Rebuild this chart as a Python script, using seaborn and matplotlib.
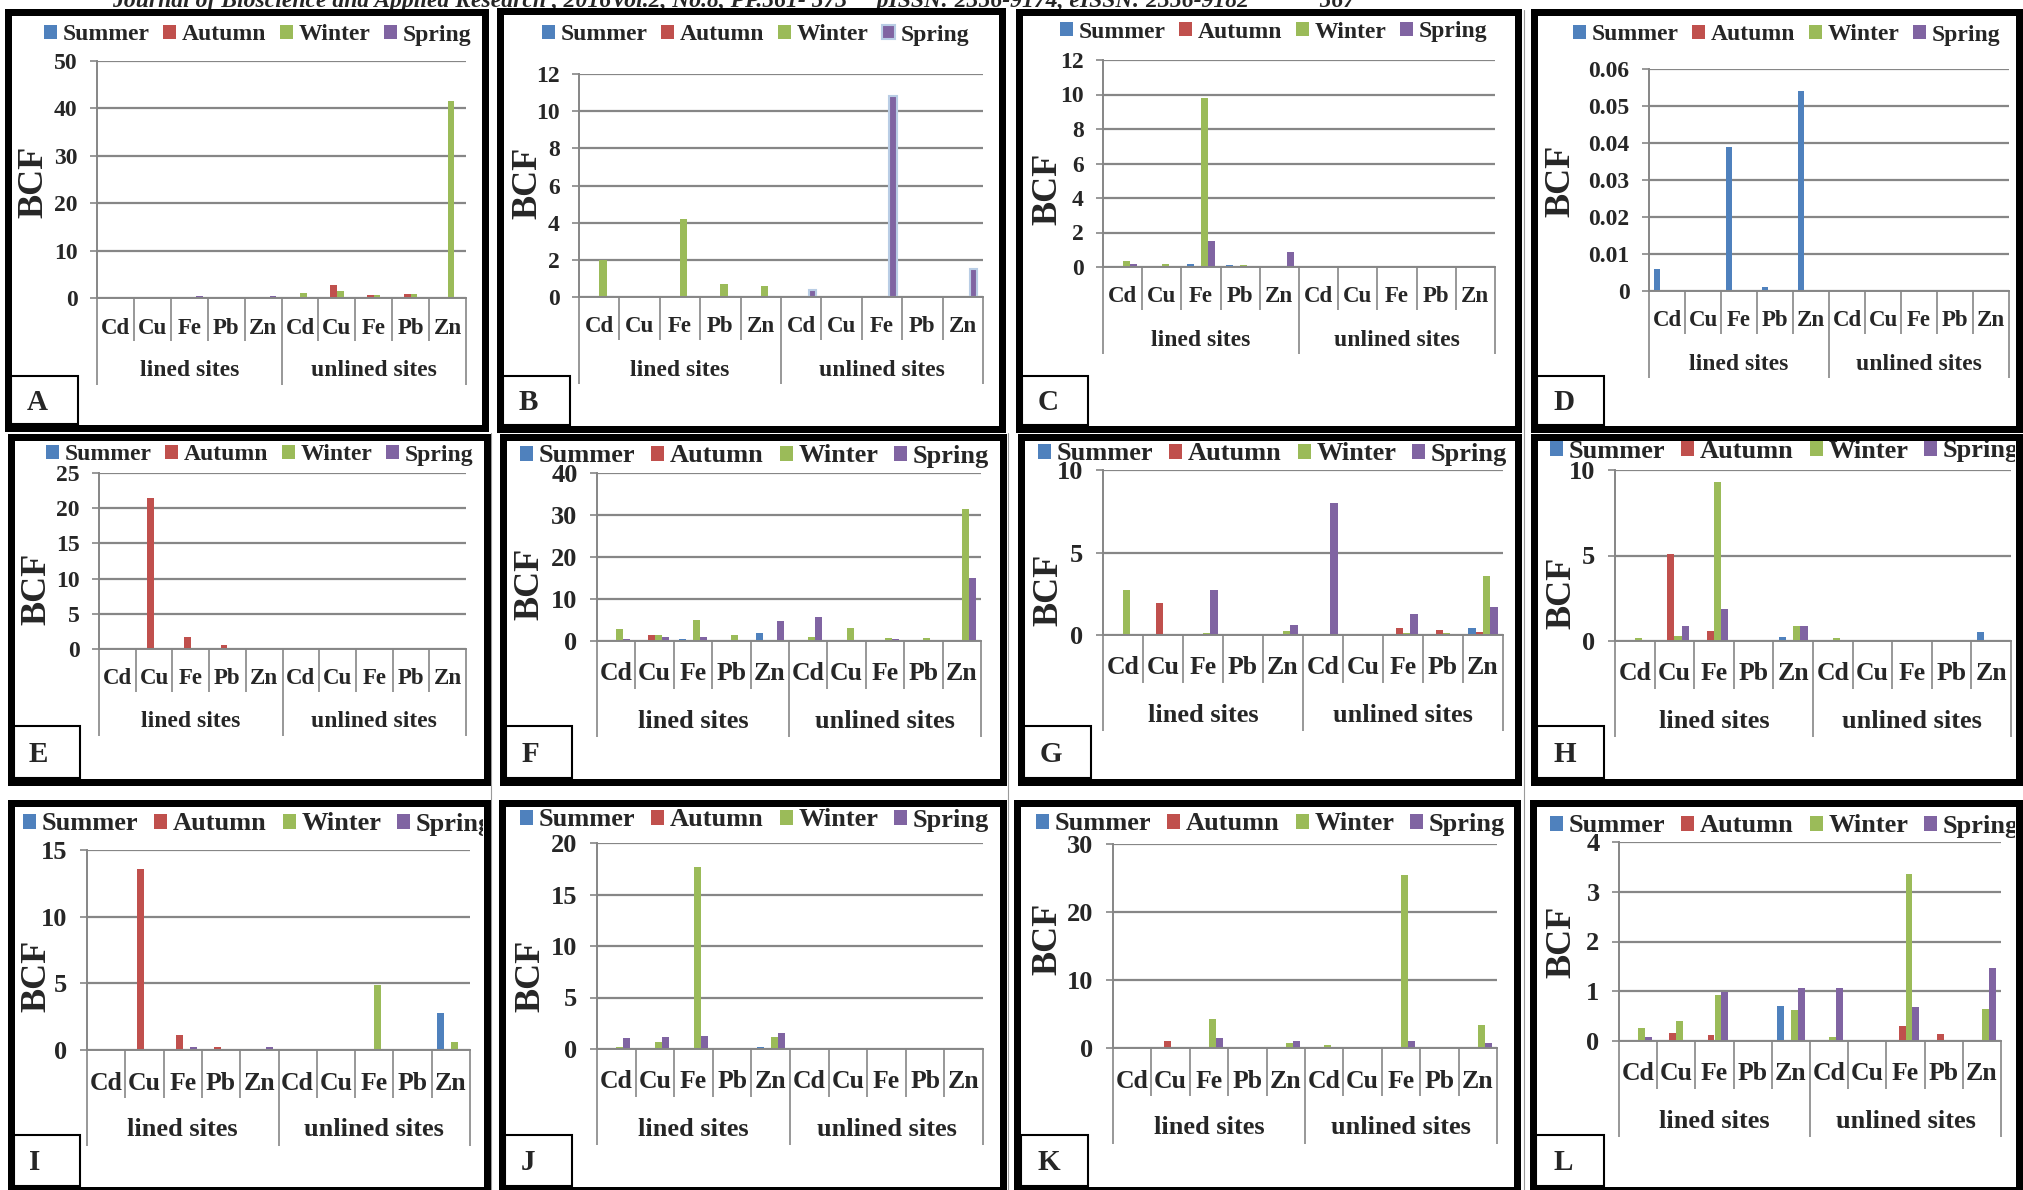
import numpy as np
import pandas as pd
import matplotlib
matplotlib.use("Agg")
import matplotlib.pyplot as plt
import seaborn as sns
from matplotlib.patches import Rectangle, Patch
from matplotlib.lines import Line2D
from matplotlib.transforms import blended_transform_factory, Bbox, TransformedBbox

# ---------------- data ----------------
seasons = ["Summer", "Autumn", "Winter", "Spring"]
metals = ["Cd", "Cu", "Fe", "Pb", "Zn"]
sites = ["lined sites", "unlined sites"]
season_colors = ["#4F81BD", "#C0504D", "#9BBB59", "#8064A2"]

# order: lined Cd, Cu, Fe, Pb, Zn, unlined Cd, Cu, Fe, Pb, Zn
A_summer = [0, 0, 0, 0, 0, 0, 0, 0, 0, 0]
A_autumn = [0, 0, 0, 0, 0, 0, 2.8, 0.7, 0.8, 0.3]
A_winter = [0, 0, 0, 0, 0, 1.1, 1.4, 0.7, 0.8, 41.6]
A_spring = [0, 0, 0.5, 0, 0.5, 0, 0, 0, 0, 0]

B_summer = [0, 0, 0, 0, 0, 0, 0, 0, 0, 0]
B_autumn = [0, 0, 0, 0, 0, 0, 0, 0, 0, 0]
B_winter = [2.0, 0, 4.2, 0.7, 0.6, 0, 0, 0, 0, 0]
B_spring = [0, 0, 0, 0, 0, 0.4, 0, 10.8, 0, 1.5]

C_summer = [0.05, 0, 0.15, 0.1, 0, 0, 0, 0, 0, 0.05]
C_autumn = [0, 0, 0, 0, 0, 0, 0, 0, 0, 0]
C_winter = [0.35, 0.2, 9.8, 0.1, 0, 0, 0, 0, 0, 0]
C_spring = [0.15, 0, 1.5, 0, 0.85, 0, 0, 0, 0, 0]

D_summer = [0.006, 0, 0.039, 0.001, 0.054, 0, 0, 0, 0, 0]
D_autumn = [0, 0, 0, 0, 0, 0, 0, 0, 0, 0]
D_winter = [0, 0, 0, 0, 0, 0, 0, 0, 0, 0]
D_spring = [0, 0, 0, 0, 0, 0, 0, 0, 0, 0]

E_summer = [0.05, 0, 0, 0, 0, 0, 0, 0, 0, 0]
E_autumn = [0, 21.4, 1.7, 0.6, 0, 0, 0, 0, 0, 0]
E_winter = [0.2, 0, 0.2, 0, 0.1, 0, 0, 0, 0, 0]
E_spring = [0, 0, 0, 0, 0, 0, 0, 0, 0, 0]

F_summer = [0.1, 0, 0.4, 0, 1.8, 0, 0, 0, 0, 0]
F_autumn = [0, 1.4, 0, 0, 0, 0, 0, 0, 0, 0]
F_winter = [2.8, 1.5, 5.0, 1.5, 0.3, 1.0, 3.2, 0.8, 0.6, 31.5]
F_spring = [0.4, 0.9, 1.0, 0, 4.7, 5.7, 0, 0.4, 0, 15.0]

G_summer = [0, 0, 0, 0, 0, 0, 0, 0, 0, 0.4]
G_autumn = [0, 1.95, 0, 0, 0, 0, 0.07, 0.4, 0.3, 0.2]
G_winter = [2.7, 0, 0.15, 0, 0.25, 0.05, 0, 0.1, 0.15, 3.55]
G_spring = [0, 0, 2.7, 0, 0.6, 8.0, 0, 1.3, 0, 1.7]

H_summer = [0, 0, 0, 0, 0.25, 0, 0, 0.07, 0, 0.55]
H_autumn = [0, 5.1, 0.6, 0, 0, 0, 0, 0, 0, 0]
H_winter = [0.2, 0.3, 9.3, 0, 0.85, 0.2, 0, 0.03, 0, 0.02]
H_spring = [0, 0.85, 1.9, 0, 0.85, 0, 0, 0, 0, 0]

I_summer = [0, 0, 0.03, 0, 0.05, 0, 0, 0.03, 0, 2.8]
I_autumn = [0, 13.6, 1.1, 0.2, 0, 0, 0, 0, 0, 0]
I_winter = [0, 0, 0, 0, 0, 0, 0, 4.9, 0, 0.6]
I_spring = [0, 0, 0.25, 0, 0.25, 0, 0, 0, 0, 0]

J_summer = [0, 0, 0, 0, 0.15, 0, 0, 0, 0, 0]
J_autumn = [0, 0, 0, 0, 0, 0, 0, 0, 0, 0]
J_winter = [0.15, 0.7, 17.7, 0, 1.15, 0, 0, 0, 0, 0]
J_spring = [1.1, 1.2, 1.25, 0, 1.55, 0, 0, 0, 0, 0]

K_summer = [0, 0, 0, 0, 0.05, 0, 0, 0, 0, 0]
K_autumn = [0, 1.0, 0, 0, 0, 0, 0, 0, 0, 0]
K_winter = [0, 0, 4.2, 0, 0.7, 0.4, 0, 25.5, 0.1, 3.4]
K_spring = [0, 0, 1.5, 0, 1.0, 0.1, 0, 1.0, 0, 0.8]

L_summer = [0, 0, 0.01, 0, 0.7, 0, 0, 0, 0, 0]
L_autumn = [0, 0.17, 0.12, 0.03, 0, 0, 0, 0.3, 0.15, 0]
L_winter = [0.27, 0.4, 0.93, 0.03, 0.63, 0.09, 0, 3.35, 0, 0.64]
L_spring = [0.09, 0, 0.98, 0, 1.06, 1.06, 0, 0.68, 0, 1.46]

panel_data = {
    "A": [A_summer, A_autumn, A_winter, A_spring],
    "B": [B_summer, B_autumn, B_winter, B_spring],
    "C": [C_summer, C_autumn, C_winter, C_spring],
    "D": [D_summer, D_autumn, D_winter, D_spring],
    "E": [E_summer, E_autumn, E_winter, E_spring],
    "F": [F_summer, F_autumn, F_winter, F_spring],
    "G": [G_summer, G_autumn, G_winter, G_spring],
    "H": [H_summer, H_autumn, H_winter, H_spring],
    "I": [I_summer, I_autumn, I_winter, I_spring],
    "J": [J_summer, J_autumn, J_winter, J_spring],
    "K": [K_summer, K_autumn, K_winter, K_spring],
    "L": [L_summer, L_autumn, L_winter, L_spring],
}
# y axis (max, step)
panel_yaxis = {
    "A": (50, 10), "B": (12, 2), "C": (12, 2), "D": (0.06, 0.01),
    "E": (25, 5), "F": (40, 10), "G": (10, 5), "H": (10, 5),
    "I": (15, 5), "J": (20, 5), "K": (30, 10), "L": (4, 1),
}
header_text = ("Journal of Bioscience and Applied Research , 2016Vol.2, No.8, PP.561- 573"
               "     pISSN: 2356-9174, eISSN: 2356-9182            567")

# ---------------- layout (pixels) ----------------
W, H = 2023, 1190
layout = {
    "A": dict(border=(4, 8, 488, 431), ax=(97, 466, 61, 298), leg=(44, 35), fs=17, bcf=(34, 182), box=(78, 376), let=(37, 403)),
    "B": dict(border=(496, 7, 1005, 432), ax=(579, 983, 74, 297), leg=(542, 35), fs=17, bcf=(528, 183), box=(570, 376), let=(528, 403)),
    "C": dict(border=(1015, 8, 1521, 432), ax=(1103, 1495, 60, 267), leg=(1060, 32), fs=17, bcf=(1048, 189), box=(1088, 376), let=(1048, 403)),
    "D": dict(border=(1530, 8, 2022, 432), ax=(1649, 2009, 69, 291), leg=(1573, 35), fs=17, bcf=(1561, 181), box=(1604, 376), let=(1564, 403)),
    "E": dict(border=(7, 433, 490, 785), ax=(99, 466, 473, 649), leg=(46, 455), fs=17, bcf=(37, 589), box=(80, 726), let=(38, 754)),
    "F": dict(border=(499, 433, 1006, 785), ax=(597, 981, 473, 641), leg=(520, 456), fs=19, bcf=(530, 584), box=(572, 726), let=(530, 754)),
    "G": dict(border=(1017, 433, 1521, 785), ax=(1103, 1503, 470, 635), leg=(1038, 454), fs=19, bcf=(1049, 590), box=(1091, 726), let=(1051, 754)),
    "H": dict(border=(1530, 433, 2022, 785), ax=(1615, 2011, 470, 641), leg=(1550, 451), fs=19, bcf=(1562, 593), box=(1604, 726), let=(1565, 754)),
    "I": dict(border=(7, 799, 490, 1193), ax=(87, 470, 850, 1050), leg=(23, 824), fs=19, bcf=(37, 976), box=(80, 1135), let=(35, 1162)),
    "J": dict(border=(498, 799, 1006, 1193), ax=(597, 983, 843, 1049), leg=(520, 820), fs=19, bcf=(531, 976), box=(572, 1135), let=(528, 1162)),
    "K": dict(border=(1014, 799, 1521, 1193), ax=(1113, 1497, 844, 1048), leg=(1036, 824), fs=19, bcf=(1048, 939), box=(1088, 1135), let=(1049, 1162)),
    "L": dict(border=(1529, 799, 2022, 1193), ax=(1619, 2001, 842, 1041), leg=(1550, 826), fs=19, bcf=(1562, 942), box=(1604, 1135), let=(1563, 1162)),
}
GRAY = "#868686"
BT = 7  # border thickness px

sns.set_theme(style="white")
plt.rcParams["font.family"] = ["Liberation Serif", "DejaVu Serif"]
plt.rcParams["font.weight"] = "bold"
plt.rcParams["axes.labelweight"] = "bold"

fig = plt.figure(figsize=(W / 100, H / 100), dpi=100)
fig.patch.set_facecolor("white")

cat_order = [f"{sites[i // 5]}|{metals[i % 5]}" for i in range(10)]


def fx(x):
    return x / W


def fy(y):
    return 1 - y / H


for key, L in layout.items():
    vals = panel_data[key]
    ymax, step = panel_yaxis[key]
    big = L["fs"] >= 19
    fs = L["fs"]
    cat_off, grp_off, sep1, sep2 = (33, 80, 48, 96) if big else (30, 73, 43, 87)

    rows = []
    for s, series in zip(seasons, vals):
        for i, v in enumerate(series):
            rows.append({"cat": cat_order[i], "season": s, "BCF": v})
    df = pd.DataFrame(rows)

    axl, axr, axt, axb = L["ax"]
    ax = fig.add_axes([fx(axl), fy(axb), (axr - axl) / W, (axb - axt) / H])
    sns.barplot(data=df, x="cat", y="BCF", hue="season", order=cat_order,
                hue_order=seasons, palette=season_colors, saturation=1,
                width=0.727, errorbar=None, legend=False, linewidth=0, ax=ax)
    if key == "B":
        for bar in ax.containers[3]:
            bar.set_edgecolor("#B9CDE5")
            bar.set_linewidth(1.5)

    ax.set_xlim(-0.5, 9.5)
    ax.set_ylim(0, ymax)
    ticks = np.round(np.arange(0, ymax + step / 2, step), 6)
    ax.set_yticks(ticks)
    ax.set_yticklabels([f"{t:g}" for t in ticks])
    ax.set_xticks([])
    ax.set_xlabel("")
    ax.set_ylabel("")
    ax.set_facecolor("none")
    ax.set_axisbelow(True)
    ax.grid(axis="y", color=GRAY, lw=1.6)
    ax.grid(axis="x", visible=False)
    for sp in ["top", "right"]:
        ax.spines[sp].set_visible(False)
    for sp in ["left", "bottom"]:
        ax.spines[sp].set_color(GRAY)
        ax.spines[sp].set_linewidth(1.4)
    ax.tick_params(axis="y", direction="out", length=5, width=1.2, color=GRAY,
                   pad=9, labelsize=fs, left=True)
    for lab in ax.get_yticklabels():
        lab.set_fontweight("bold")

    # two-level category axis
    h = axb - axt
    trans = blended_transform_factory(ax.transData, ax.transAxes)
    for b in np.arange(-0.5, 10, 1.0):
        off = sep2 if (b + 0.5) % 5 == 0 else sep1
        ax.plot([b, b], [0, -off / h], transform=trans, color=GRAY, lw=1.2,
                clip_on=False, solid_capstyle="butt")
    for i in range(10):
        ax.text(i, -cat_off / h, metals[i % 5], transform=trans, ha="center",
                va="center", fontsize=fs - 0.5, fontweight="bold")
    for g in range(2):
        ax.text(g * 5 + 2, -grp_off / h, sites[g], transform=trans, ha="center",
                va="center", fontsize=fs, fontweight="bold")

    # legend
    hl = 13 / (fs * 100 / 72)
    handles = []
    for si, c in enumerate(season_colors):
        if key == "B" and si == 3:
            handles.append(Patch(facecolor=c, edgecolor="#B9CDE5", linewidth=1.5))
        else:
            handles.append(Patch(facecolor=c, edgecolor="none"))
    lx, ly = L["leg"]
    leg = ax.legend(handles, seasons, loc="center left",
                    bbox_to_anchor=(fx(lx), fy(ly)), bbox_transform=fig.transFigure,
                    ncol=4, frameon=False, borderpad=0, borderaxespad=0,
                    handlelength=hl, handleheight=hl, handletextpad=0.22,
                    columnspacing=0.6, prop={"size": fs, "weight": "bold"})
    bx0, by0, bx1, by1 = L["border"]
    inner = Bbox.from_extents(fx(bx0 + BT), fy(by1 - BT), fx(bx1 - BT), fy(by0 + BT))
    clipbox = TransformedBbox(inner, fig.transFigure)
    for t in leg.get_texts():
        t.set_clip_box(clipbox)
        t.set_clip_on(True)

    # y label
    fig.text(fx(L["bcf"][0]), fy(L["bcf"][1]), "BCF", rotation=90, ha="center",
             va="center", fontsize=26, fontweight="bold")

    # panel border
    fig.patches.append(Rectangle((fx(bx0 + BT / 2), fy(by1 - BT / 2)),
                                 (bx1 - bx0 - BT) / W, (by1 - by0 - BT) / H,
                                 transform=fig.transFigure, fill=False,
                                 ec="black", lw=BT * 0.72, joinstyle="miter",
                                 zorder=10))
    # letter box
    rx, ry = L["box"]
    fig.patches.append(Rectangle((fx(bx0 + BT), fy(by1 - BT)),
                                 (rx - bx0 - BT) / W, (by1 - BT - ry) / H,
                                 transform=fig.transFigure, fill=False,
                                 ec="black", lw=1.5, zorder=9))
    fig.text(fx(L["let"][0]), fy(L["let"][1]), key, ha="center", va="center",
             fontsize=21, fontweight="bold")

# faint page lines between panels
for x, y0, y1 in [(491, 433, 1190), (1008, 433, 1190), (1524, 10, 1190)]:
    fig.add_artist(Line2D([fx(x), fx(x)], [fy(y0), fy(y1)], transform=fig.transFigure,
                          color="#9A9A9A", lw=0.8))

# running header (cut at the top of the page)
fig.text(fx(112), fy(7), header_text, ha="left", va="baseline", fontsize=17,
         fontstyle="italic", fontweight="bold")

fig.savefig("out.png", dpi=100, facecolor="white")
